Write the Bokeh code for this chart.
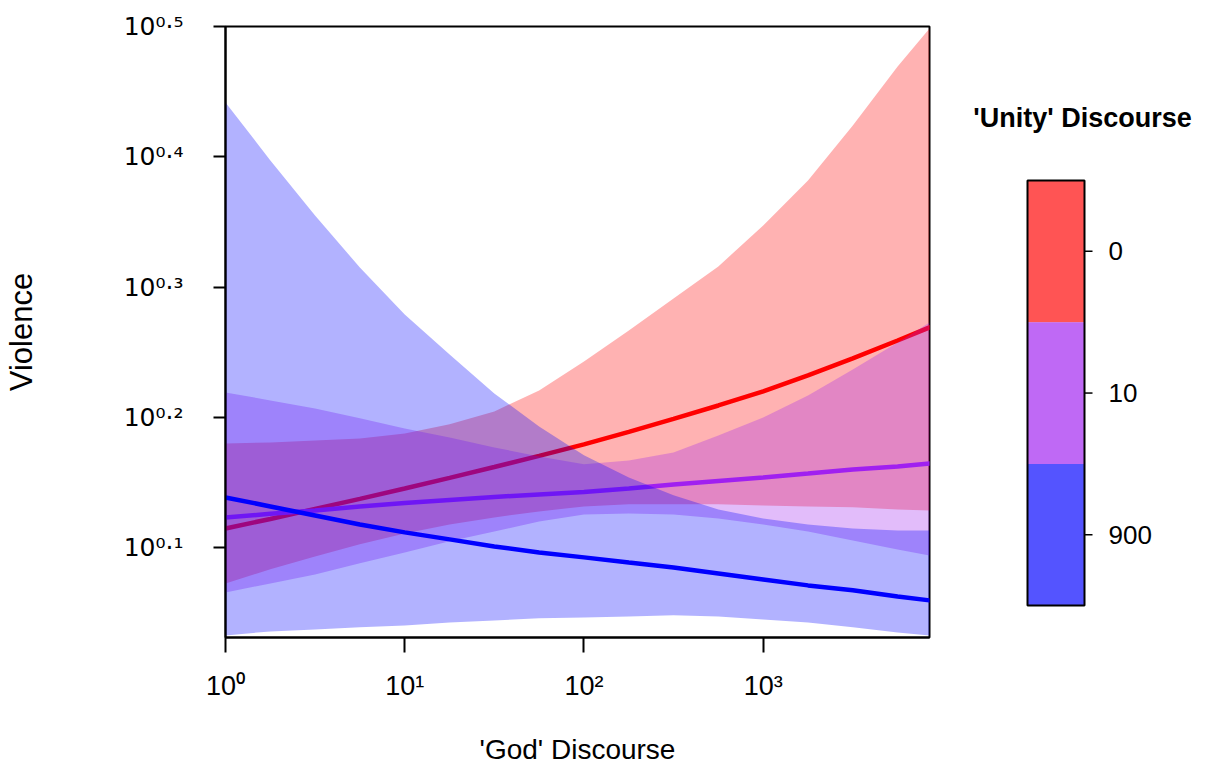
import math
from bokeh.plotting import figure
from bokeh.models import Range1d, FixedTicker
from bokeh.core.properties import value
from bokeh.layouts import row
from bokeh.embed import file_html
from bokeh.resources import INLINE

# ---------------- data ----------------
# 'God' Discourse (x, log axis)
GOD = [1, 1.78, 3.16, 5.62, 10, 17.8, 31.6, 56.2, 100, 178, 316, 562,
       1000, 1778, 3162, 5623, 8470]

# Violence, given as log10 values (axis is labelled 10^0.1 ... 10^0.5)
# 'Unity' Discourse = 0
RED_FIT = [0.1147, 0.1220, 0.1297, 0.1374, 0.1454, 0.1535, 0.1619, 0.1704, 0.1792,
           0.1888, 0.1988, 0.2091, 0.2199, 0.2322, 0.2452, 0.2590, 0.2690]
RED_HI = [0.1800, 0.1807, 0.1823, 0.1838, 0.1876, 0.1946, 0.2045, 0.2206, 0.2429,
          0.2667, 0.2913, 0.3158, 0.3473, 0.3818, 0.4240, 0.4693, 0.4985]
RED_LO = [0.0725, 0.0833, 0.0932, 0.1025, 0.1109, 0.1178, 0.1232, 0.1278, 0.1316,
          0.1332, 0.1332, 0.1332, 0.1324, 0.1316, 0.1309, 0.1293, 0.1285]
# 'Unity' Discourse = 10
PURPLE_FIT = [0.1232, 0.1259, 0.1285, 0.1316, 0.1343, 0.1366, 0.1389, 0.1408, 0.1427,
              0.1454, 0.1485, 0.1512, 0.1539, 0.1569, 0.1600, 0.1623, 0.1646]
PURPLE_HI = [0.2191, 0.2130, 0.2068, 0.1992, 0.1915, 0.1846, 0.1769, 0.1700, 0.1639,
             0.1669, 0.1731, 0.1861, 0.1999, 0.2168, 0.2368, 0.2575, 0.2728]
PURPLE_LO = [0.0656, 0.0725, 0.0794, 0.0879, 0.0963, 0.1048, 0.1124, 0.1201, 0.1255,
             0.1262, 0.1255, 0.1224, 0.1178, 0.1124, 0.1055, 0.0986, 0.0940]
# 'Unity' Discourse = 900
BLUE_FIT = [0.1385, 0.1316, 0.1247, 0.1178, 0.1117, 0.1063, 0.1009, 0.0963, 0.0925,
            0.0886, 0.0848, 0.0802, 0.0756, 0.0710, 0.0672, 0.0625, 0.0595]
BLUE_HI = [0.4417, 0.3972, 0.3549, 0.3150, 0.2790, 0.2483, 0.2183, 0.1930, 0.1708,
           0.1539, 0.1401, 0.1293, 0.1224, 0.1178, 0.1147, 0.1132, 0.1132]
BLUE_LO = [0.0326, 0.0357, 0.0372, 0.0388, 0.0403, 0.0426, 0.0441, 0.0457, 0.0464,
           0.0472, 0.0480, 0.0472, 0.0449, 0.0426, 0.0388, 0.0349, 0.0326]

UNITY_LEVELS = ["0", "10", "900"]
LEVEL_COLORS = ["#FF0000", "#A020F0", "#0000FF"]

X_TICKS = [1, 10, 100, 1000]
X_TICK_LABELS = ["10\u2070", "10\u00b9", "10\u00b2", "10\u00b3"]
Y_TICK_EXP = [0.1, 0.2, 0.3, 0.4, 0.5]
Y_TICK_LABELS = ["10\u2070\u00b7\u00b9", "10\u2070\u00b7\u00b2", "10\u2070\u00b7\u00b3",
                 "10\u2070\u00b7\u2074", "10\u2070\u00b7\u2075"]

X_LIMITS = (1, 8470)
Y_LOG_LIMITS = (0.031, 0.5)

FONT = "Liberation Sans"
SUP_FONT = "DejaVu Sans"


def pow10(a):
    return [10 ** v for v in a]


YMIN, YMAX = 10 ** Y_LOG_LIMITS[0], 10 ** Y_LOG_LIMITS[1]
Y_TICKS = pow10(Y_TICK_EXP)

# ---------------- main plot ----------------
H = 768
p = figure(width=960, height=H, x_axis_type="log", y_axis_type="log",
           x_range=Range1d(*X_LIMITS), y_range=Range1d(YMIN, YMAX),
           output_backend="svg", toolbar_location=None, title=None,
           min_border_left=224, min_border_right=31, min_border_top=26,
           min_border_bottom=131)
p.xgrid.visible = False
p.ygrid.visible = False
p.outline_line_color = "black"
p.outline_line_width = 2
p.outline_line_alpha = 1.0
p.background_fill_color = "white"
p.border_fill_color = "white"

for ax, ticks, labels, tout, stand, lfont, lsize in (
        (p.xaxis[0], X_TICKS, X_TICK_LABELS, 15, 18, FONT, "27px"),
        (p.yaxis[0], Y_TICKS, Y_TICK_LABELS, 12, 30, SUP_FONT, "25px")):
    ax.ticker = FixedTicker(ticks=ticks)
    ax.major_label_overrides = dict(zip(ticks, labels))
    ax.major_tick_out = tout
    ax.major_tick_in = 0
    ax.minor_tick_out = 0
    ax.minor_tick_in = 0
    ax.major_tick_line_width = 2
    ax.major_tick_line_color = "black"
    ax.axis_line_width = 2
    ax.axis_line_color = "black"
    ax.major_label_standoff = stand
    ax.major_label_text_font = lfont
    ax.major_label_text_font_size = lsize
    ax.major_label_text_color = "black"
    ax.axis_label_text_font = FONT
    ax.axis_label_text_font_style = "normal"
    ax.axis_label_text_color = "black"

p.xaxis.axis_label = "'God' Discourse"
p.xaxis.axis_label_text_font_size = "28px"
p.xaxis.axis_label_standoff = 30
p.yaxis.axis_label = "Violence"
p.yaxis.axis_label_text_font_size = "31px"
p.yaxis.axis_label_standoff = 82

series = [
    (RED_LO, RED_HI, RED_FIT, LEVEL_COLORS[0]),
    (PURPLE_LO, PURPLE_HI, PURPLE_FIT, LEVEL_COLORS[1]),
    (BLUE_LO, BLUE_HI, BLUE_FIT, LEVEL_COLORS[2]),
]
for lo, hi, fit, col in series:
    p.varea(x=GOD, y1=pow10(lo), y2=pow10(hi), fill_color=col, fill_alpha=0.3)
    p.line(x=GOD, y=pow10(fit), line_color=col, line_width=4.5, line_cap="round")

# ---------------- colour key (separate panel, pixel units) ----------------
KEY_LEFT, KEY_RIGHT = 1027, 1084
KEY_TOP, KEY_STEP = 180, 141.7
CANVAS_X0, CANVAS_X1 = 960, 1200

cb = figure(width=CANVAS_X1 - CANVAS_X0, height=H,
            x_range=Range1d(CANVAS_X0, CANVAS_X1), y_range=Range1d(637, 26),
            x_axis_location=None, y_axis_location=None,
            output_backend="svg", toolbar_location=None, title=None,
            min_border_left=0, min_border_right=0, min_border_top=26,
            min_border_bottom=131)
cb.xgrid.visible = False
cb.ygrid.visible = False
cb.outline_line_color = None
cb.background_fill_color = "white"
cb.border_fill_color = "white"

n = len(UNITY_LEVELS)
tops = [KEY_TOP + i * KEY_STEP for i in range(n)]
bottoms = [KEY_TOP + (i + 1) * KEY_STEP for i in range(n)]
centers = [(t + b) / 2 for t, b in zip(tops, bottoms)]
cb.quad(left=KEY_LEFT, right=KEY_RIGHT, top=tops, bottom=bottoms,
        fill_color=LEVEL_COLORS, fill_alpha=0.67, line_color=None)
cb.quad(left=[KEY_LEFT], right=[KEY_RIGHT], top=[tops[0]], bottom=[bottoms[-1]],
        fill_color=None, line_color="black", line_width=2)
cb.segment(x0=[KEY_RIGHT] * n, x1=[KEY_RIGHT + 8] * n, y0=centers, y1=centers,
           line_color="black", line_width=1.5)
cb.text(x=[KEY_RIGHT + 24] * n, y=centers, text=UNITY_LEVELS,
        text_font=value(FONT), text_font_size="26px", text_color="black",
        text_align="left", text_baseline="middle")
cb.text(x=[KEY_RIGHT - 2], y=[117], text=["'Unity' Discourse"],
        text_font=value(FONT), text_font_size="27px", text_font_style="bold",
        text_color="black", text_align="center", text_baseline="middle")

layout = row(p, cb)
open("out.html", "w").write(file_html(layout, INLINE))
